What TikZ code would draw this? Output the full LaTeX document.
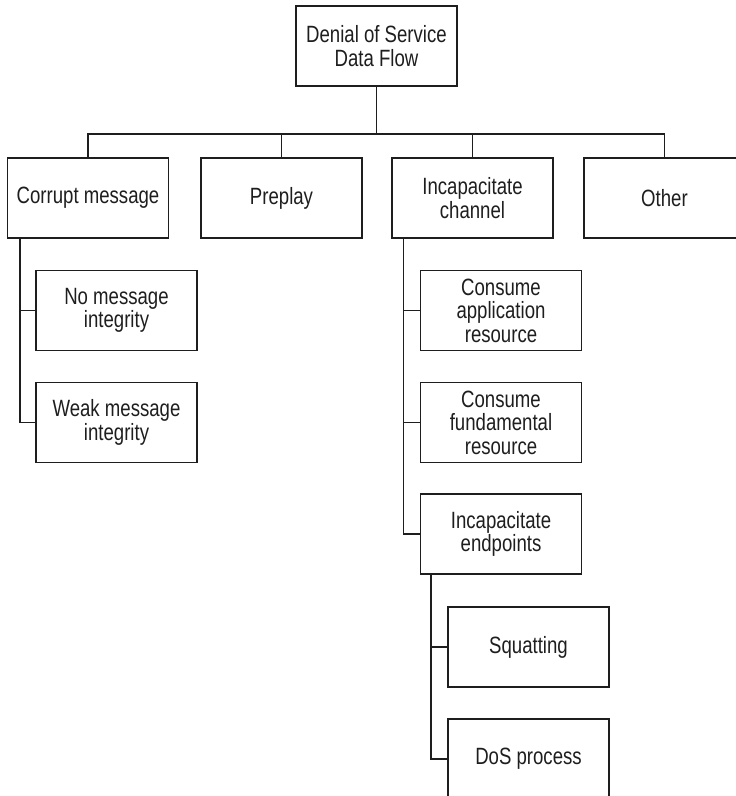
\documentclass[tikz,border=0pt]{standalone}
\usepackage{fontspec}
\setmainfont{Liberation Sans}[FakeStretch=0.79]
\usepackage{tikz}
\usetikzlibrary{calc}
\definecolor{inkgray}{RGB}{30,30,30}

\begin{document}
\begin{tikzpicture}[x=0.02cm, y=-0.02cm,
    box/.style={draw=inkgray, line width=0.85pt, minimum width=3.22cm,
               minimum height=1.6cm, inner sep=1pt, align=center,
               text=inkgray, font=\fontsize{13.4}{13.4}\selectfont},
    link/.style={draw=inkgray, line width=0.85pt}
  ]
    \useasboundingbox (0,0) rectangle (736,796);
    % top level
    \node[box](root)    at (376.5,46)  {Denial of Service\\Data Flow};
    \node[box](corrupt) at (88,198)    {Corrupt message};
    \node[box](preplay) at (281.5,198) {Preplay};
    \node[box](channel) at (472.5,198) {Incapacitate\\channel};
    \node[box](other)   at (664.5,198) {Other};
    % under corrupt message
    \node[box](nomsg)   at (116.5,310.5) {No message\\integrity};
    \node[box](weakmsg) at (116.5,422.5) {Weak message\\integrity};
    % under incapacitate channel
    \node[box](appres)  at (501,310.5) {Consume\\application\\resource};
    \node[box](fundres) at (501,422.5) {Consume\\fundamental\\resource};
    \node[box](endpts)  at (501,534)   {Incapacitate\\endpoints};
    \node[box](squat)   at (528.5,647) {Squatting};
    \node[box](dosproc) at (528.5,759) {DoS process};
    % connectors
    \coordinate (bus) at (376.5,134);
    \draw[link](root.south)--(bus);
    \draw[link](corrupt.north)|-(bus)-|(other.north);
    \draw[link](preplay.north)--(preplay.north |- bus);
    \draw[link](channel.north)--(channel.north |- bus);
    \coordinate (tc) at ($(corrupt.south west)+(13,0)$);
    \draw[link](tc)|-(nomsg.west); \draw[link](tc)|-(weakmsg.west);
    \coordinate (tch) at ($(channel.south west)+(12,0)$);
    \draw[link](tch)|-(appres.west); \draw[link](tch)|-(fundres.west);
    \draw[link](tch)|-(endpts.west);
    \coordinate (te) at ($(endpts.south west)+(11,0)$);
    \draw[link](te)|-(squat.west); \draw[link](te)|-(dosproc.west);
  \end{tikzpicture}
\end{document}
